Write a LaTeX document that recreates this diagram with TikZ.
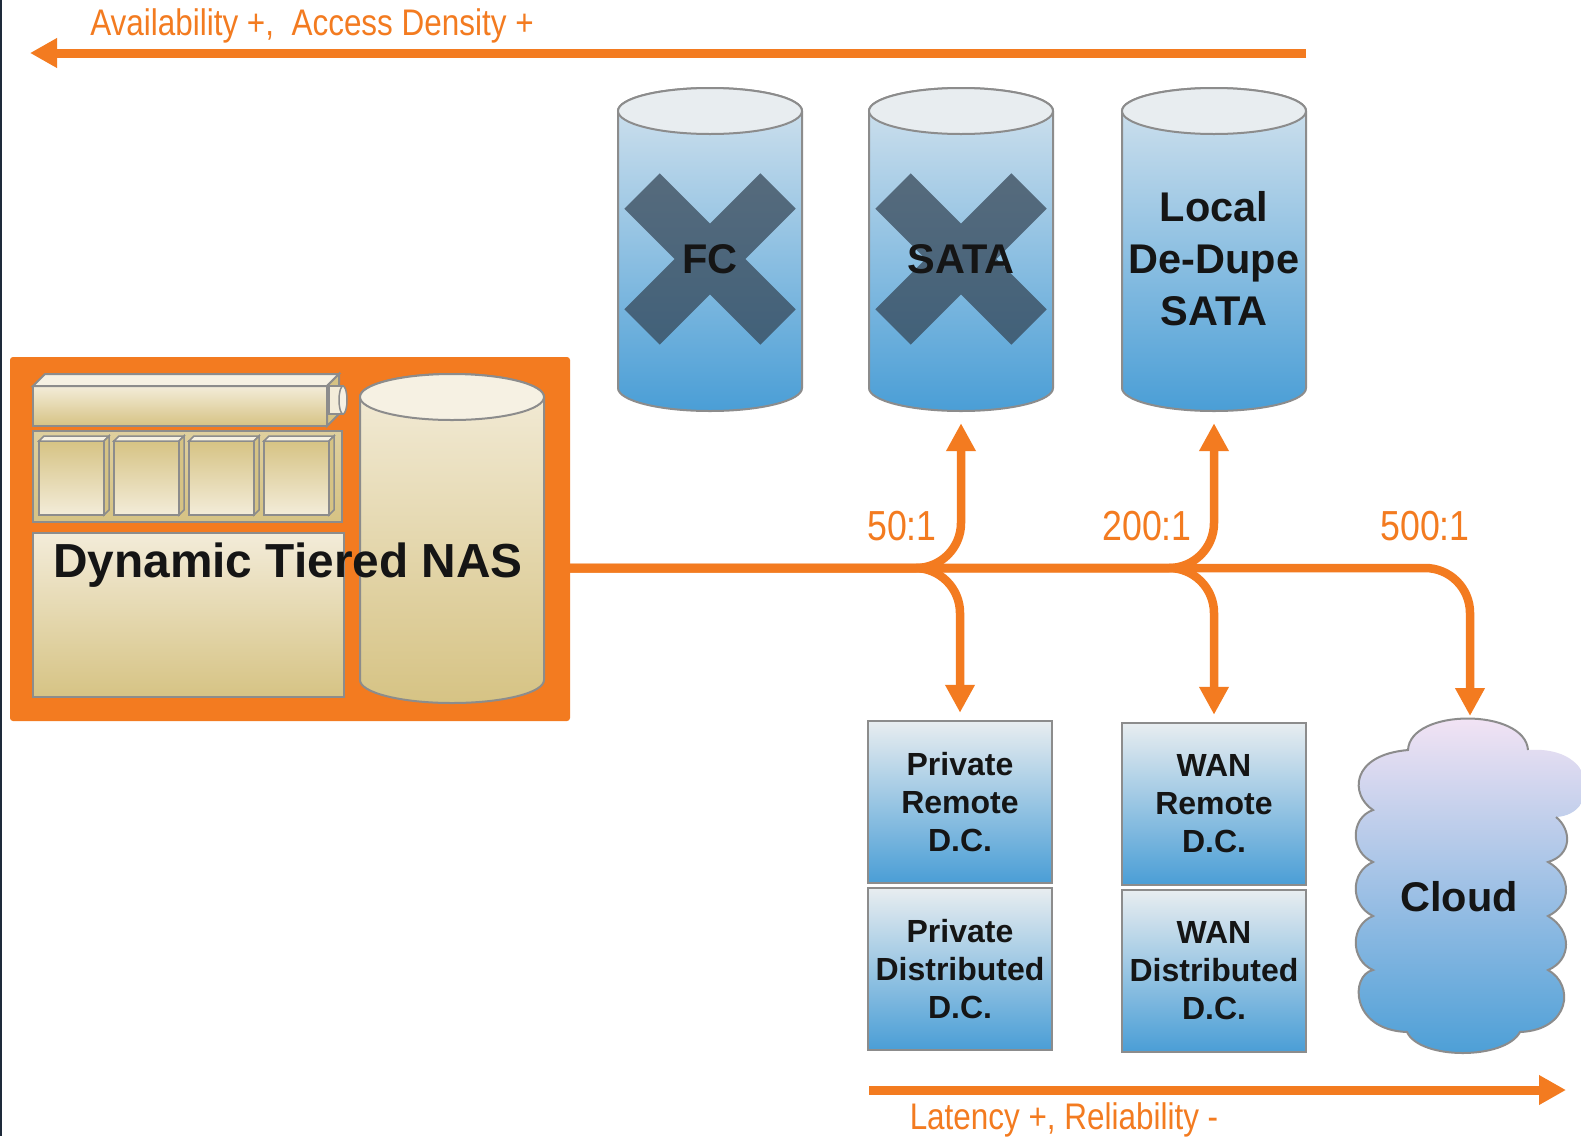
\documentclass[tikz,border=0pt]{standalone}
\usepackage{fontspec}
\setmainfont{Liberation Sans}
\newfontfamily\narrowsans[FakeStretch=0.85]{Liberation Sans}
\usetikzlibrary{arrows.meta}

\definecolor{flow}{RGB}{243,123,32}
\definecolor{rim}{RGB}{140,140,140}
\definecolor{ink}{RGB}{21,21,21}
\definecolor{skylid}{RGB}{232,237,240}
\definecolor{skytop}{RGB}{212,227,238}
\definecolor{skylow}{RGB}{74,158,214}
\definecolor{sandlid}{RGB}{246,241,227}
\definecolor{sandtop}{RGB}{243,236,217}
\definecolor{sandlow}{RGB}{214,195,132}
\definecolor{crossout}{RGB}{52,68,84}
\definecolor{haze}{RGB}{247,229,245}
\definecolor{cloudmid}{RGB}{140,195,248}
\definecolor{edge}{RGB}{30,42,58}

% storage drum: name, centre x, top y, bottom y, colour set
\newcommand{\drum}[5]{%
  \shade[top color=#5top, bottom color=#5low, draw=rim, line width=2pt]
    (#2-92,#3+23) -- (#2-92,#4-23)
    arc[start angle=180, end angle=0, x radius=92, y radius=23]
    -- (#2+92,#3+23)
    arc[start angle=0, end angle=-180, x radius=92, y radius=23] -- cycle;
  \filldraw[fill=#5lid, draw=rim, line width=2pt] (#2,#3+23) ellipse[x radius=92, y radius=23];
  \node[inner sep=0pt, minimum width=184pt, minimum height=#4-#3] (#1) at (#2,{(#3+#4)/2}) {};
}

\begin{document}
\begin{tikzpicture}[x=1pt, y=-1pt,
  every node/.style={text=ink},
  flowline/.style={draw=flow, line width=8.5pt, rounded corners=45pt, -{Triangle[length=28pt, width=28pt]}},
  trend/.style={draw=flow, line width=9pt, -{Triangle[length=27pt, width=28pt]}},
  trendlab/.style={anchor=base, text=flow, font=\narrowsans\fontsize{37}{44}\selectfont},
  ratio/.style={anchor=base, text=flow, font=\narrowsans\fontsize{42}{50}\selectfont},
  drumlab/.style={align=center, font=\bfseries\fontsize{41.5}{52}\selectfont},
  dcbox/.style={draw=rim, line width=2.5pt, top color=skylid, bottom color=skylow,
    minimum width=184pt, minimum height=162pt, align=center,
    font=\bfseries\fontsize{32}{38}\selectfont},
  sand/.style={top color=sandtop, bottom color=sandlow, draw=rim, line width=2pt},
  bay/.pic={
    \shade[top color=sandlow, bottom color=sandtop, draw=rim, line width=1.5pt] (0,0) rectangle (65,74);
    \filldraw[fill=sandlid, draw=rim, line width=1.5pt] (0,0) -- (5,-5) -- (70,-5) -- (65,0) -- cycle;
    \filldraw[fill=sandlow, draw=rim, line width=1.5pt] (65,0) -- (70,-5) -- (70,69) -- (65,74) -- cycle;
  },
  cross/.pic={
    \draw[crossout, opacity=0.72, line width=50pt] (-68,-68) -- (68,68) (-68,68) -- (68,-68);
  }
]
\fill[white] (0,0) rectangle (1581,1136);
\fill[edge] (0,0) rectangle (2,1136);
\useasboundingbox (0,0) rectangle (1581,1136);

% NAS appliance
\node[fill=flow, rounded corners=3pt, minimum width=560pt, minimum height=364pt, inner sep=0pt] (nas) at (290,539) {};
\shade[sand] (33,386) rectangle (327,426);
\filldraw[fill=sandlid, draw=rim, line width=2pt] (33,386) -- (45,374) -- (339,374) -- (327,386) -- cycle;
\filldraw[fill=sandlow, draw=rim, line width=2pt] (327,386) -- (339,374) -- (339,414) -- (327,426) -- cycle;
\filldraw[fill=sandtop, draw=rim, line width=1.5pt] (329,386) rectangle (343,414);
\filldraw[fill=sandlid, draw=rim, line width=1.5pt] (343,400) ellipse[x radius=4, y radius=14];
\shade[top color=sandlow!70!sandtop, bottom color=sandlow, draw=rim, line width=2pt] (33,431) rectangle (342,522);
\pic at (39,441) {bay};
\pic at (114,441) {bay};
\pic at (189,441) {bay};
\pic at (264,441) {bay};
\shade[sand] (33,533) rectangle (344,697);
\drum{nasdrum}{452}{374}{703}{sand}
\node[anchor=base, font=\bfseries\fontsize{47.8}{57}\selectfont] (naslabel) at (288,577) {Dynamic Tiered NAS};

% local tiers
\drum{fc}{710}{88}{411}{sky}
\pic at (710,259) {cross};
\node[drumlab] (fclab) at (710,259) {FC};
\drum{sata}{961}{88}{411}{sky}
\pic at (961,259) {cross};
\node[drumlab] (satalab) at (961,259) {SATA};
\drum{dedupe}{1214}{88}{411}{sky}
\node[drumlab] (dedupelab) at (1214,259) {Local\\De-Dupe\\SATA};

% remote tiers
\node[dcbox] (privrem) at (960,802) {Private\\Remote\\D.C.};
\node[dcbox] (privdist) at (960,969) {Private\\Distributed\\D.C.};
\node[dcbox] (wanrem) at (1214,804) {WAN\\Remote\\D.C.};
\node[dcbox] (wandist) at (1214,971) {WAN\\Distributed\\D.C.};

% cloud
\path[top color=haze, middle color=cloudmid, bottom color=skylow]
  (1408,750) .. controls (1410,708) and (1525,708) .. (1528,750)
  .. controls (1600,745) and (1600,815) .. (1556,817)
  .. controls (1572,830) and (1572,855) .. (1548,862)
  .. controls (1572,875) and (1572,905) .. (1548,916)
  .. controls (1572,930) and (1572,960) .. (1548,970)
  .. controls (1575,985) and (1570,1030) .. (1520,1032)
  .. controls (1505,1060) and (1420,1060) .. (1407,1032)
  .. controls (1350,1030) and (1350,975) .. (1373,970)
  .. controls (1350,960) and (1350,925) .. (1373,916)
  .. controls (1350,905) and (1350,872) .. (1373,862)
  .. controls (1350,852) and (1350,818) .. (1373,810)
  .. controls (1350,795) and (1350,755) .. (1408,750) -- cycle;
\draw[rim, line width=2pt]
  (1556,817) .. controls (1572,830) and (1572,855) .. (1548,862)
  .. controls (1572,875) and (1572,905) .. (1548,916)
  .. controls (1572,930) and (1572,960) .. (1548,970)
  .. controls (1575,985) and (1570,1030) .. (1520,1032)
  .. controls (1505,1060) and (1420,1060) .. (1407,1032)
  .. controls (1350,1030) and (1350,975) .. (1373,970)
  .. controls (1350,960) and (1350,925) .. (1373,916)
  .. controls (1350,905) and (1350,872) .. (1373,862)
  .. controls (1350,852) and (1350,818) .. (1373,810)
  .. controls (1350,795) and (1350,755) .. (1408,750)
  .. controls (1410,708) and (1525,708) .. (1528,750);
\node[font=\bfseries\fontsize{41.5}{50}\selectfont] (cloud) at (1459,897) {Cloud};
\coordinate (cloudtop) at (1470,716);

% data paths out of the NAS
\coordinate (nasport) at (570,568);
\draw[flowline, shorten >=12pt] (nasport) -| (sata.south);
\draw[flowline, shorten >=7pt] (nasport) -| (privrem.north);
\draw[flowline, shorten >=12pt] (nasport) -| (dedupe.south);
\draw[flowline, shorten >=7pt] (nasport) -| (wanrem.north);
\draw[flowline] (nasport) -| (cloudtop);
\node[ratio] (r50) at (902,540) {50:1};
\node[ratio] (r200) at (1147,540) {200:1};
\node[ratio] (r500) at (1425,540) {500:1};

% trend arrows
\coordinate (availR) at (1306,53);
\coordinate (availL) at (30,53);
\draw[trend] (availR) -- (availL);
\node[trendlab] (availlab) at (312,35) {Availability +,\ \ Access Density +};
\coordinate (latL) at (869,1090);
\coordinate (latR) at (1566,1090);
\draw[trend] (latL) -- (latR);
\node[trendlab] (latlab) at (1064,1129) {Latency +, Reliability -};
\end{tikzpicture}
\end{document}
